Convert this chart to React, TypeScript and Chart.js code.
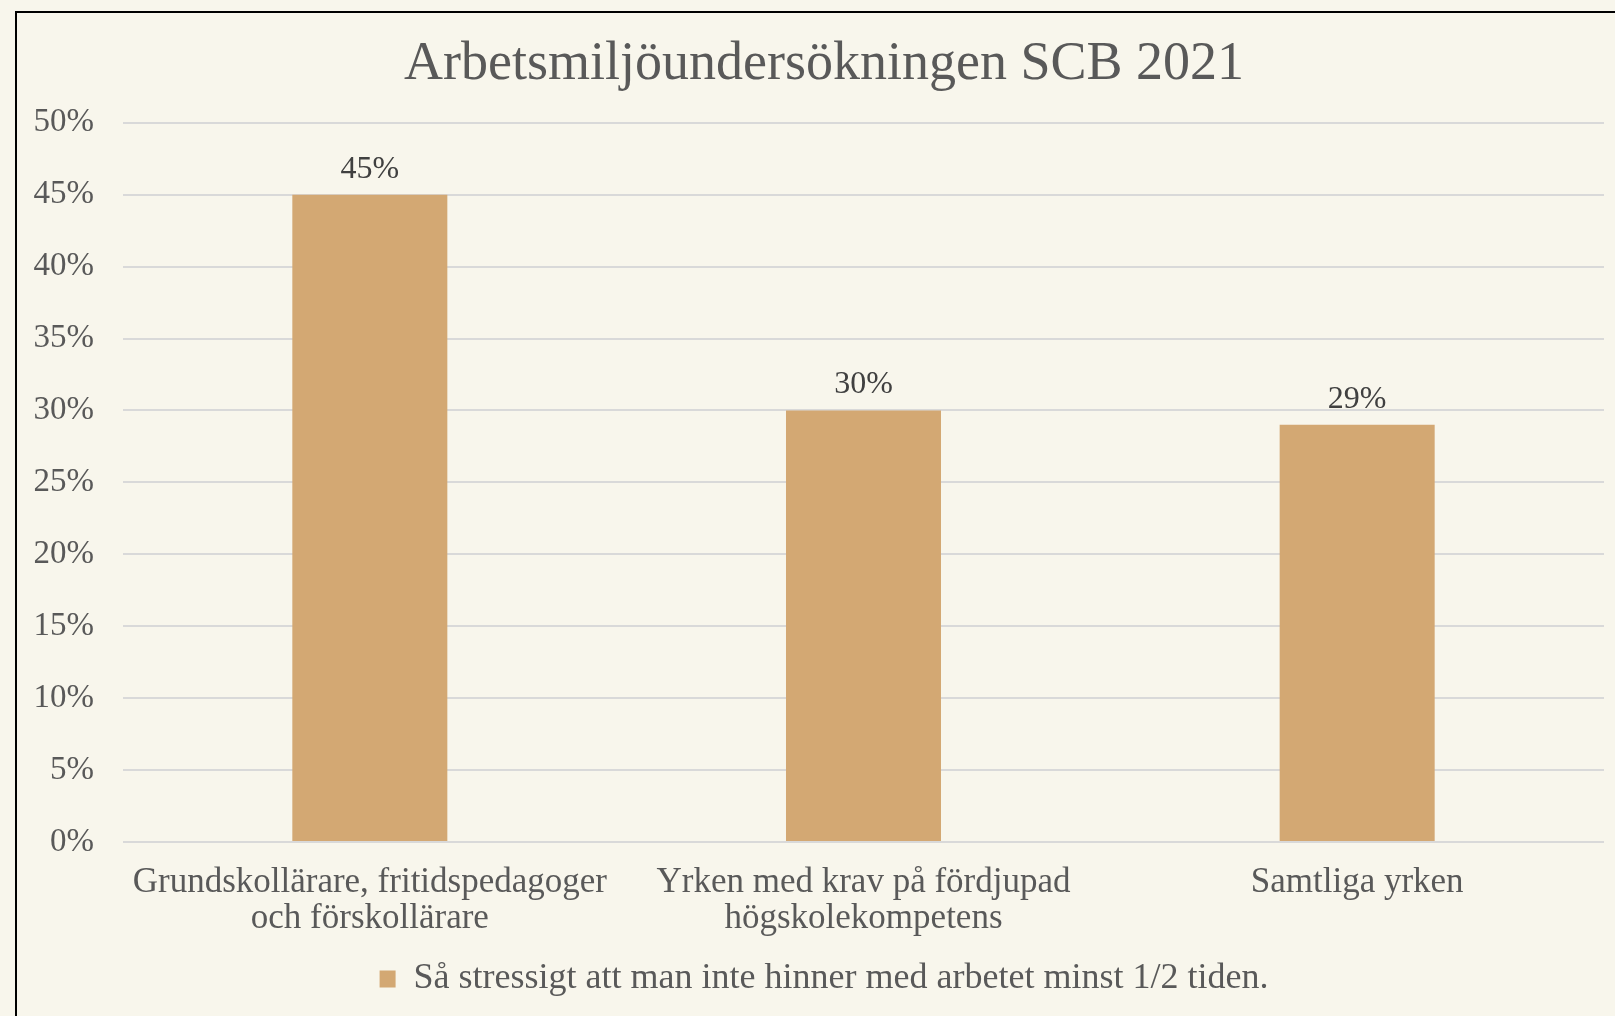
import React, { useEffect, useRef } from "react";
import { Chart, registerables } from "chart.js";

Chart.register(...registerables);

const categories: string[][] = [
  ["Grundskollärare, fritidspedagoger", "och förskollärare"],
  ["Yrken med krav på fördjupad", "högskolekompetens"],
  ["Samtliga yrken"],
];
const seriesLabel = "Så stressigt att man inte hinner med arbetet minst 1/2 tiden.";
const seriesValues: number[] = [45, 30, 29];
const titleText = "Arbetsmiljöundersökningen SCB 2021";
const yMax = 50;
const yStep = 5;

const BG = "#F8F6EC";
const BAR = "#D3A873";
const FONT = "'Liberation Serif', 'Times New Roman', serif";

const dataLabelPlugin = {
  id: "dataLabels",
  afterLayout(chart: any) {
    // let the y tick labels extend into the left padding without clipping
    if (chart.scales.y) chart.scales.y.left = 0;
  },
  afterDatasetsDraw(chart: any) {
    const ctx = chart.ctx;
    const meta = chart.getDatasetMeta(0);
    ctx.save();
    ctx.font = `32px ${FONT}`;
    ctx.fillStyle = "#404040";
    ctx.textAlign = "center";
    ctx.textBaseline = "alphabetic";
    meta.data.forEach((bar: any, i: number) => {
      const v = chart.data.datasets[0].data[i];
      ctx.fillText(`${v}%`, bar.x, bar.y - 17);
    });
    ctx.restore();
  },
};

export default function App() {
  const ref = useRef<HTMLCanvasElement | null>(null);
  useEffect(() => {
    if (!ref.current) return;
    const chart = new Chart(ref.current, {
      type: "bar",
      data: {
        labels: categories,
        datasets: [
          {
            label: seriesLabel,
            data: seriesValues,
            backgroundColor: BAR,
            borderWidth: 0,
            barPercentage: 0.314,
            categoryPercentage: 1,
          },
        ],
      },
      options: {
        responsive: false,
        animation: false,
        layout: { padding: { left: 44, right: 11, top: 0, bottom: 9 } },
        plugins: {
          title: {
            display: true,
            text: titleText,
            color: "#595959",
            font: { family: FONT, size: 54, weight: "normal", lineHeight: 1.2 },
            padding: { top: 32, bottom: 26 },
          },
          legend: {
            display: true,
            position: "bottom",
            labels: {
              color: "#595959",
              font: { family: FONT, size: 36, lineHeight: 1.2 },
              boxWidth: 16,
              boxHeight: 17,
              padding: 10,
            },
          },
          tooltip: { enabled: false },
        },
        scales: {
          x: {
            grid: { display: false, drawTicks: false },
            border: { display: false },
            ticks: {
              color: "#595959",
              font: { family: FONT, size: 35, lineHeight: 1.03 },
              padding: 23,
              maxRotation: 0,
              autoSkip: false,
            },
            afterFit: (scale: any) => {
              scale.height = 109;
            },
          },
          y: {
            min: 0,
            max: yMax,
            grid: { color: "#D9D9D9", lineWidth: 2, drawTicks: false },
            border: { display: false },
            ticks: {
              stepSize: yStep,
              color: "#595959",
              font: { family: FONT, size: 33 },
              padding: 29,
              callback: (v: any) => `${v}%`,
            },
            afterFit: (scale: any) => {
              scale.width = 79;
            },
          },
        },
      },
      plugins: [dataLabelPlugin],
    });
    return () => chart.destroy();
  }, []);

  return (
    <div
      style={{
        position: "fixed",
        left: 0,
        top: 0,
        width: 1615,
        height: 1016,
        background: BG,
        overflow: "hidden",
      }}
    >
      <div
        style={{
          position: "absolute",
          left: 15,
          top: 11,
          width: 1700,
          height: 1100,
          borderTop: "2px solid #000",
          borderLeft: "2px solid #000",
        }}
      />
      <canvas
        ref={ref}
        width={1615}
        height={1016}
        style={{ position: "absolute", left: 0, top: 0, width: 1615, height: 1016 }}
      />
    </div>
  );
}
